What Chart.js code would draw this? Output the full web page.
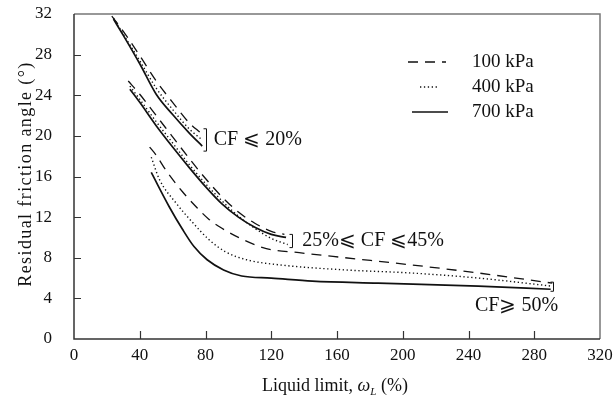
<!DOCTYPE html>
<html>
<head>
<meta charset="utf-8">
<script src="https://cdn.jsdelivr.net/npm/chart.js@4.4.1/dist/chart.umd.min.js"></script>
<style>
    html, body { margin: 0; padding: 0; background: #fff; }
    #wrap { width: 615px; height: 405px; }
</style>
</head>
<body>
<div id="wrap"><canvas id="chart" width="615" height="405"></canvas></div>
<script>
// tick labels
const xTickValues = [0, 40, 80, 120, 160, 200, 240, 280, 320];
const yTickValues = [0, 4, 8, 12, 16, 20, 24, 28, 32];

const pressures = ['100 kPa', '400 kPa', '700 kPa'];

// CF <= 20%
const g1X100 = [23, 30, 40, 50, 60, 70, 77];
const g1Y100 = [31.8, 30.3, 27.9, 25.4, 23.3, 21.3, 20.3];
const g1X400 = [24, 30, 40, 50, 60, 70, 78];
const g1Y400 = [31.6, 30.0, 27.4, 24.7, 22.6, 20.7, 19.6];
const g1X700 = [24, 30, 40, 50, 60, 70, 78];
const g1Y700 = [31.5, 29.9, 27.1, 24.1, 22.1, 20.3, 19.0];

// 25% <= CF <= 45%
const g2X100 = [33, 40, 50, 60, 70, 80, 90, 100, 110, 120, 128];
const g2Y100 = [25.4, 24.1, 22.0, 19.9, 17.8, 15.8, 14.0, 12.5, 11.4, 10.6, 10.3];
const g2X400 = [34, 40, 50, 60, 70, 80, 90, 100, 110, 120, 130];
const g2Y400 = [24.9, 23.6, 21.4, 19.3, 17.2, 15.3, 13.6, 12.1, 10.9, 9.9, 9.3];
const g2X700 = [34, 40, 50, 60, 70, 80, 90, 100, 110, 120, 129];
const g2Y700 = [24.6, 23.3, 21.0, 18.9, 16.9, 15.0, 13.3, 12.0, 11.0, 10.3, 10.0];

// CF >= 50%
const g3X100 = [46, 50, 56, 66, 75, 82, 90, 100, 117, 137, 165, 205, 246, 291];
const g3Y100 = [18.9, 18.1, 16.6, 14.5, 12.9, 11.8, 10.9, 10.0, 8.9, 8.5, 8.0, 7.3, 6.5, 5.5];
const g3X400 = [47, 52, 62, 72, 82, 92, 105, 125, 165, 205, 246, 291];
const g3Y400 = [17.9, 15.7, 13.4, 11.5, 9.8, 8.6, 7.8, 7.3, 6.8, 6.5, 6.0, 5.2];
const g3X700 = [47, 58, 66, 73, 81, 91, 102, 120, 145, 185, 246, 290];
const g3Y700 = [16.4, 13.0, 10.8, 9.1, 7.8, 6.8, 6.2, 6.0, 5.7, 5.5, 5.2, 4.9];

const SERIF = '"Liberation Serif", "Times New Roman", serif';
const INK = '#111';

const styles = {
    '100 kPa': { borderDash: [10, 7], borderWidth: 1.3 },
    '400 kPa': { borderDash: [1.3, 2.6], borderWidth: 1.4 },
    '700 kPa': { borderDash: [], borderWidth: 1.7 },
};

function zip(xs, ys) {
    return xs.map((x, i) => ({ x: x, y: ys[i] }));
}

function series(label, xs, ys) {
    return Object.assign({
        label: label,
        data: zip(xs, ys),
        borderColor: INK,
        pointRadius: 0,
        fill: false,
        cubicInterpolationMode: 'monotone',
    }, styles[label]);
}

const datasets = [
    series('100 kPa', g1X100, g1Y100),
    series('400 kPa', g1X400, g1Y400),
    series('700 kPa', g1X700, g1Y700),
    series('100 kPa', g2X100, g2Y100),
    series('400 kPa', g2X400, g2Y400),
    series('700 kPa', g2X700, g2Y700),
    series('100 kPa', g3X100, g3Y100),
    series('400 kPa', g3X400, g3Y400),
    series('700 kPa', g3X700, g3Y700),
];

// group labels: bracket x, bracket y range, text anchor
const groupNotes = [
    { text: 'CF \u2A7D 20%', bx: 80.6, y0: 20.7, y1: 18.5, tx: 85, ty: 19.6, align: 'left' },
    { text: '25%\u2A7D CF \u2A7D45%', bx: 132.7, y0: 10.3, y1: 9.0, tx: 138.8, ty: 9.7, align: 'left' },
    { text: 'CF\u2A7E 50%', bx: 291.5, y0: 5.6, y1: 4.7, tx: 294.5, ty: 3.3, align: 'right' },
];

const framePlugin = {
    id: 'frame',
    afterDraw(chart) {
        const ctx = chart.ctx;
        const a = chart.chartArea;
        const xs = chart.scales.x;
        const ys = chart.scales.y;
        ctx.save();

        // top and right border
        ctx.strokeStyle = '#777';
        ctx.lineWidth = 1.5;
        ctx.beginPath();
        ctx.moveTo(a.left, a.top);
        ctx.lineTo(a.right, a.top);
        ctx.lineTo(a.right, a.bottom);
        ctx.stroke();

        // axes
        ctx.strokeStyle = '#333';
        ctx.lineWidth = 1.5;
        ctx.beginPath();
        ctx.moveTo(a.left, a.top);
        ctx.lineTo(a.left, a.bottom);
        ctx.lineTo(a.right, a.bottom);
        ctx.stroke();

        // inward ticks
        ctx.lineWidth = 1.2;
        ctx.beginPath();
        xTickValues.slice(1, -1).forEach(v => {
            const px = Math.round(xs.getPixelForValue(v)) + 0.5;
            ctx.moveTo(px, a.bottom);
            ctx.lineTo(px, a.bottom - 8);
        });
        yTickValues.slice(1, -1).forEach(v => {
            const py = Math.round(ys.getPixelForValue(v)) + 0.5;
            ctx.moveTo(a.left, py);
            ctx.lineTo(a.left + 7, py);
        });
        ctx.stroke();

        ctx.fillStyle = INK;

        // y title
        ctx.save();
        ctx.translate(26, 174);
        ctx.rotate(-Math.PI / 2);
        ctx.font = '18px ' + SERIF;
        ctx.letterSpacing = '1.4px';
        ctx.textAlign = 'center';
        ctx.textBaseline = 'middle';
        ctx.fillText('Residual friction angle (\u00B0)', 0, 0);
        ctx.restore();

        // x title with italic omega and subscript L
        const base = 391;
        const parts = [
            { t: 'Liquid limit, ', f: '18px ' + SERIF, dy: 0 },
            { t: '\u03C9', f: 'italic 18px ' + SERIF, dy: 0 },
            { t: 'L', f: 'italic 11px ' + SERIF, dy: 4 },
            { t: ' (%)', f: '18px ' + SERIF, dy: 0 },
        ];
        let total = 0;
        parts.forEach(p => { ctx.font = p.f; p.w = ctx.measureText(p.t).width; total += p.w; });
        let cx = 335 - total / 2;
        ctx.textBaseline = 'alphabetic';
        ctx.textAlign = 'left';
        parts.forEach(p => {
            ctx.font = p.f;
            ctx.fillText(p.t, cx, base + p.dy);
            cx += p.w;
        });

        // group brackets and labels
        ctx.strokeStyle = INK;
        ctx.lineWidth = 1;
        ctx.font = '20px ' + SERIF;
        ctx.textBaseline = 'middle';
        groupNotes.forEach(n => {
            const bx = Math.round(xs.getPixelForValue(n.bx)) + 0.5;
            const b0 = ys.getPixelForValue(n.y0);
            const b1 = ys.getPixelForValue(n.y1);
            ctx.beginPath();
            ctx.moveTo(bx - 3, b0);
            ctx.lineTo(bx, b0);
            ctx.lineTo(bx, b1);
            ctx.lineTo(bx - 3, b1);
            ctx.stroke();
            ctx.textAlign = n.align;
            ctx.fillText(n.text, xs.getPixelForValue(n.tx), ys.getPixelForValue(n.ty));
        });

        // legend
        const rows = [
            { label: pressures[0], y: 62, x0: 408, x1: 446 },
            { label: pressures[1], y: 87, x0: 420, x1: 438 },
            { label: pressures[2], y: 112, x0: 412, x1: 448 },
        ];
        rows.forEach(r => {
            const st = styles[r.label];
            ctx.setLineDash(st.borderDash);
            ctx.lineWidth = st.borderWidth;
            ctx.beginPath();
            ctx.moveTo(r.x0, r.y);
            ctx.lineTo(r.x1, r.y);
            ctx.stroke();
            ctx.setLineDash([]);
            ctx.font = '19px ' + SERIF;
            ctx.textAlign = 'left';
            ctx.fillText(r.label, 472, r.y);
        });
        ctx.restore();
    },
};

new Chart(document.getElementById('chart'), {
    type: 'line',
    data: { datasets: datasets },
    options: {
        responsive: false,
        animation: false,
        parsing: true,
        layout: { padding: { top: 14, right: 15, left: 0, bottom: 0 } },
        plugins: {
            legend: { display: false },
            tooltip: { enabled: false },
        },
        scales: {
            x: {
                type: 'linear',
                min: 0,
                max: 320,
                afterBuildTicks: s => { s.ticks = xTickValues.map(v => ({ value: v })); },
                afterFit: s => { s.height = 66; s.paddingLeft = 0; s.paddingRight = 0; },
                grid: { display: false, drawTicks: false },
                border: { display: false },
                ticks: {
                    padding: 6,
                    color: INK,
                    font: { family: SERIF, size: 17 },
                    maxRotation: 0,
                    autoSkip: false,
                },
            },
            y: {
                type: 'linear',
                min: 0,
                max: 32,
                afterBuildTicks: s => { s.ticks = yTickValues.map(v => ({ value: v })); },
                afterFit: s => { s.width = 74; s.paddingTop = 0; s.paddingBottom = 0; },
                grid: { display: false, drawTicks: false },
                border: { display: false },
                ticks: {
                    padding: 22,
                    color: INK,
                    font: { family: SERIF, size: 17 },
                },
            },
        },
    },
    plugins: [framePlugin],
});
</script>
</body>
</html>
